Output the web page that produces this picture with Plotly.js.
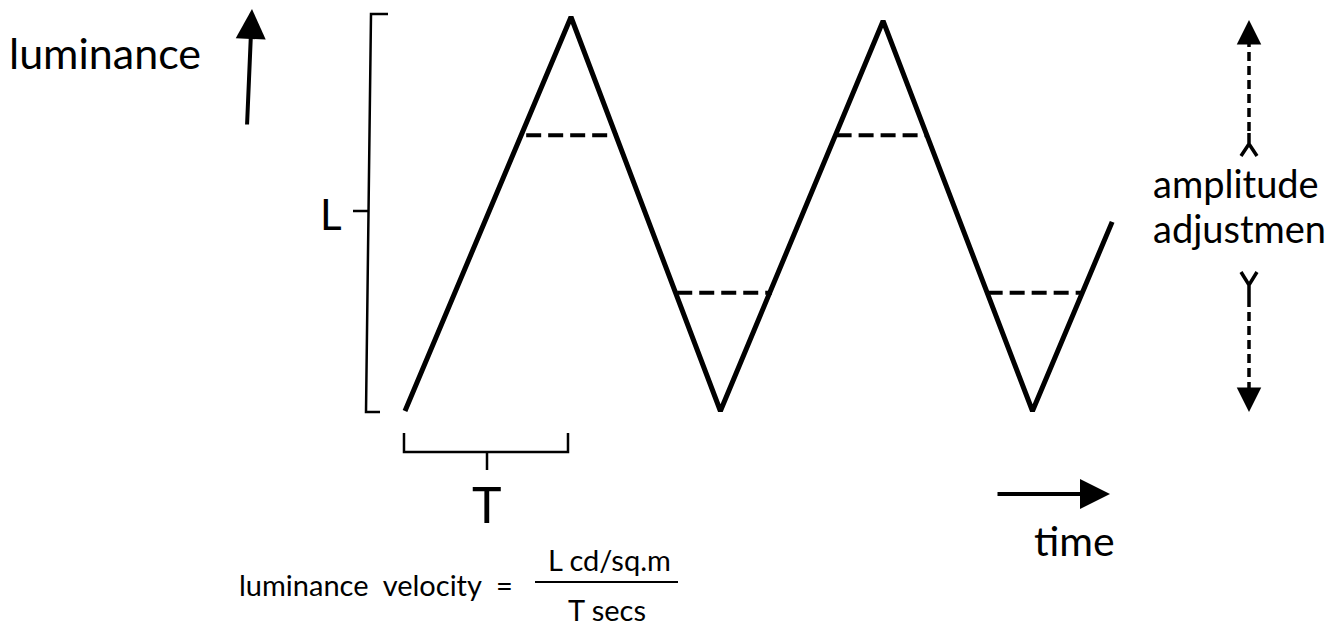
<!DOCTYPE html>
<html>
<head>
<meta charset="utf-8">
<script src="https://cdn.plot.ly/plotly-3.0.1.min.js"></script>
<style>
  html, body { margin: 0; padding: 0; background: #fff; }
  #chart { width: 1338px; height: 627px; }
</style>
</head>
<body>
<div id="chart"></div>
<script>
// Triangle-wave luminance vs time, time in units of T, luminance in units of L
const waveTime = [0, 1.00, 1.90, 2.88, 3.78, 4.26];
const waveLum = [0, 1.00, 0.00, 0.99, 0.00, 0.48];

// amplitude adjustment levels (dashed)
const upperLevel = 0.70;
const lowerLevel = 0.30;
const upperDashStart = [0.73, 2.60];
const upperDashEnd = [1.28, 3.14];
const lowerDashStart = [1.64, 3.51];
const lowerDashEnd = [2.21, 4.08];

const W = 1338, H = 627;
const FONT = 'Lato, "DejaVu Sans", sans-serif';

// where 0/T and 0/L sit on the page
const x0px = 405, pxPerT = 166;
const y0px = 411, pxPerL = 394;

// paper helpers for the drawing bits around the plot
const px = x => x / W;
const py = y => 1 - y / H;

function pathPx(segments) {
    return segments.map(seg =>
        'M' + seg.map(p => px(p[0]).toFixed(5) + ',' + py(p[1]).toFixed(5)).join('L')
    ).join(' ');
}

function dashPairs(starts, ends, level) {
    const x = [], y = [];
    for (let i = 0; i < starts.length; i++) {
        x.push(starts[i], ends[i], null);
        y.push(level, level, null);
    }
    return {x, y};
}

const upper = dashPairs(upperDashStart, upperDashEnd, upperLevel);
const lower = dashPairs(lowerDashStart, lowerDashEnd, lowerLevel);

const traces = [
    {
        x: waveTime, y: waveLum,
        mode: 'lines', type: 'scatter',
        line: {color: '#000', width: 5},
        hoverinfo: 'skip', showlegend: false,
    },
    {
        x: upper.x.concat(lower.x), y: upper.y.concat(lower.y),
        mode: 'lines', type: 'scatter',
        line: {color: '#000', width: 4, dash: '15px,7px'},
        hoverinfo: 'skip', showlegend: false,
    },
];

const black = {color: '#000', width: 2.5};

const shapes = [
    // L bracket
    {type: 'path', xref: 'paper', yref: 'paper', line: black,
        path: pathPx([[[388, 14], [371, 14], [366, 412], [380, 412]], [[353, 211], [368, 211]]])},
    // T bracket
    {type: 'path', xref: 'paper', yref: 'paper', line: black,
        path: pathPx([[[404, 433], [404, 452], [568, 452], [568, 433]], [[487, 452], [487, 470]]])},
    // fraction bar
    {type: 'line', xref: 'paper', yref: 'paper', line: {color: '#000', width: 2},
        x0: px(535), x1: px(678), y0: py(582), y1: py(582)},
    // amplitude adjustment, dashed shafts
    {type: 'line', xref: 'paper', yref: 'paper', line: {color: '#000', width: 3.5, dash: '9px,5px'},
        x0: px(1249), x1: px(1249), y0: py(38), y1: py(133)},
    {type: 'line', xref: 'paper', yref: 'paper', line: {color: '#000', width: 3.5, dash: '9px,5px'},
        x0: px(1249), x1: px(1249), y0: py(298), y1: py(394)},
    // tails
    {type: 'path', xref: 'paper', yref: 'paper', line: {color: '#000', width: 3.5},
        path: pathPx([[[1249, 133], [1249, 144]], [[1241, 156], [1249, 144], [1257, 156]]])},
    {type: 'path', xref: 'paper', yref: 'paper', line: {color: '#000', width: 3.5},
        path: pathPx([[[1241, 272], [1249, 285], [1257, 272]], [[1249, 285], [1249, 298]]])},
];

function label(text, x, y, size, xanchor) {
    return {
        text: text, xref: 'paper', yref: 'paper', x: px(x), y: py(y),
        xanchor: xanchor || 'center', yanchor: 'middle', showarrow: false,
        borderpad: 0,
        font: {family: FONT, size: size, color: '#000'},
    };
}

function arrow(tipX, tipY, tailX, tailY, width, size) {
    return {
        text: '', xref: 'paper', yref: 'paper', x: px(tipX), y: py(tipY),
        ax: tailX - tipX, ay: tailY - tipY, showarrow: true,
        arrowhead: 2, arrowsize: size, arrowwidth: width, arrowcolor: '#000',
    };
}

const annotations = [
    label('luminance', 8, 52, 43, 'left'),
    label('L', 331, 214, 42),
    label('T', 487, 504, 50),
    label('time', 1033, 540, 41, 'left'),
    label('amplitude', 1152, 183, 38, 'left'),
    label('adjustmen', 1152, 228, 38, 'left'),
    label('luminance&nbsp;&nbsp;velocity&nbsp;&nbsp;=', 514, 584, 29, 'right'),
    label('L cd/sq.m', 609, 559, 29),
    label('T secs', 607, 609, 29),
    arrow(252, 9, 247, 126, 4, 1.5),
    arrow(1110, 494, 996, 494, 4, 1.5),
    arrow(1249, 20, 1249, 42, 3.5, 1.4),
    arrow(1249, 412, 1249, 390, 3.5, 1.4),
];

const layout = {
    width: W, height: H,
    margin: {l: 0, r: 0, t: 0, b: 0, pad: 0},
    paper_bgcolor: '#fff', plot_bgcolor: '#fff',
    xaxis: {range: [-x0px / pxPerT, (W - x0px) / pxPerT], visible: false, fixedrange: true},
    yaxis: {range: [-(H - y0px) / pxPerL, y0px / pxPerL], visible: false, fixedrange: true},
    shapes: shapes,
    annotations: annotations,
    showlegend: false,
};

Plotly.newPlot('chart', traces, layout, {displayModeBar: false, staticPlot: true});
</script>
</body>
</html>
